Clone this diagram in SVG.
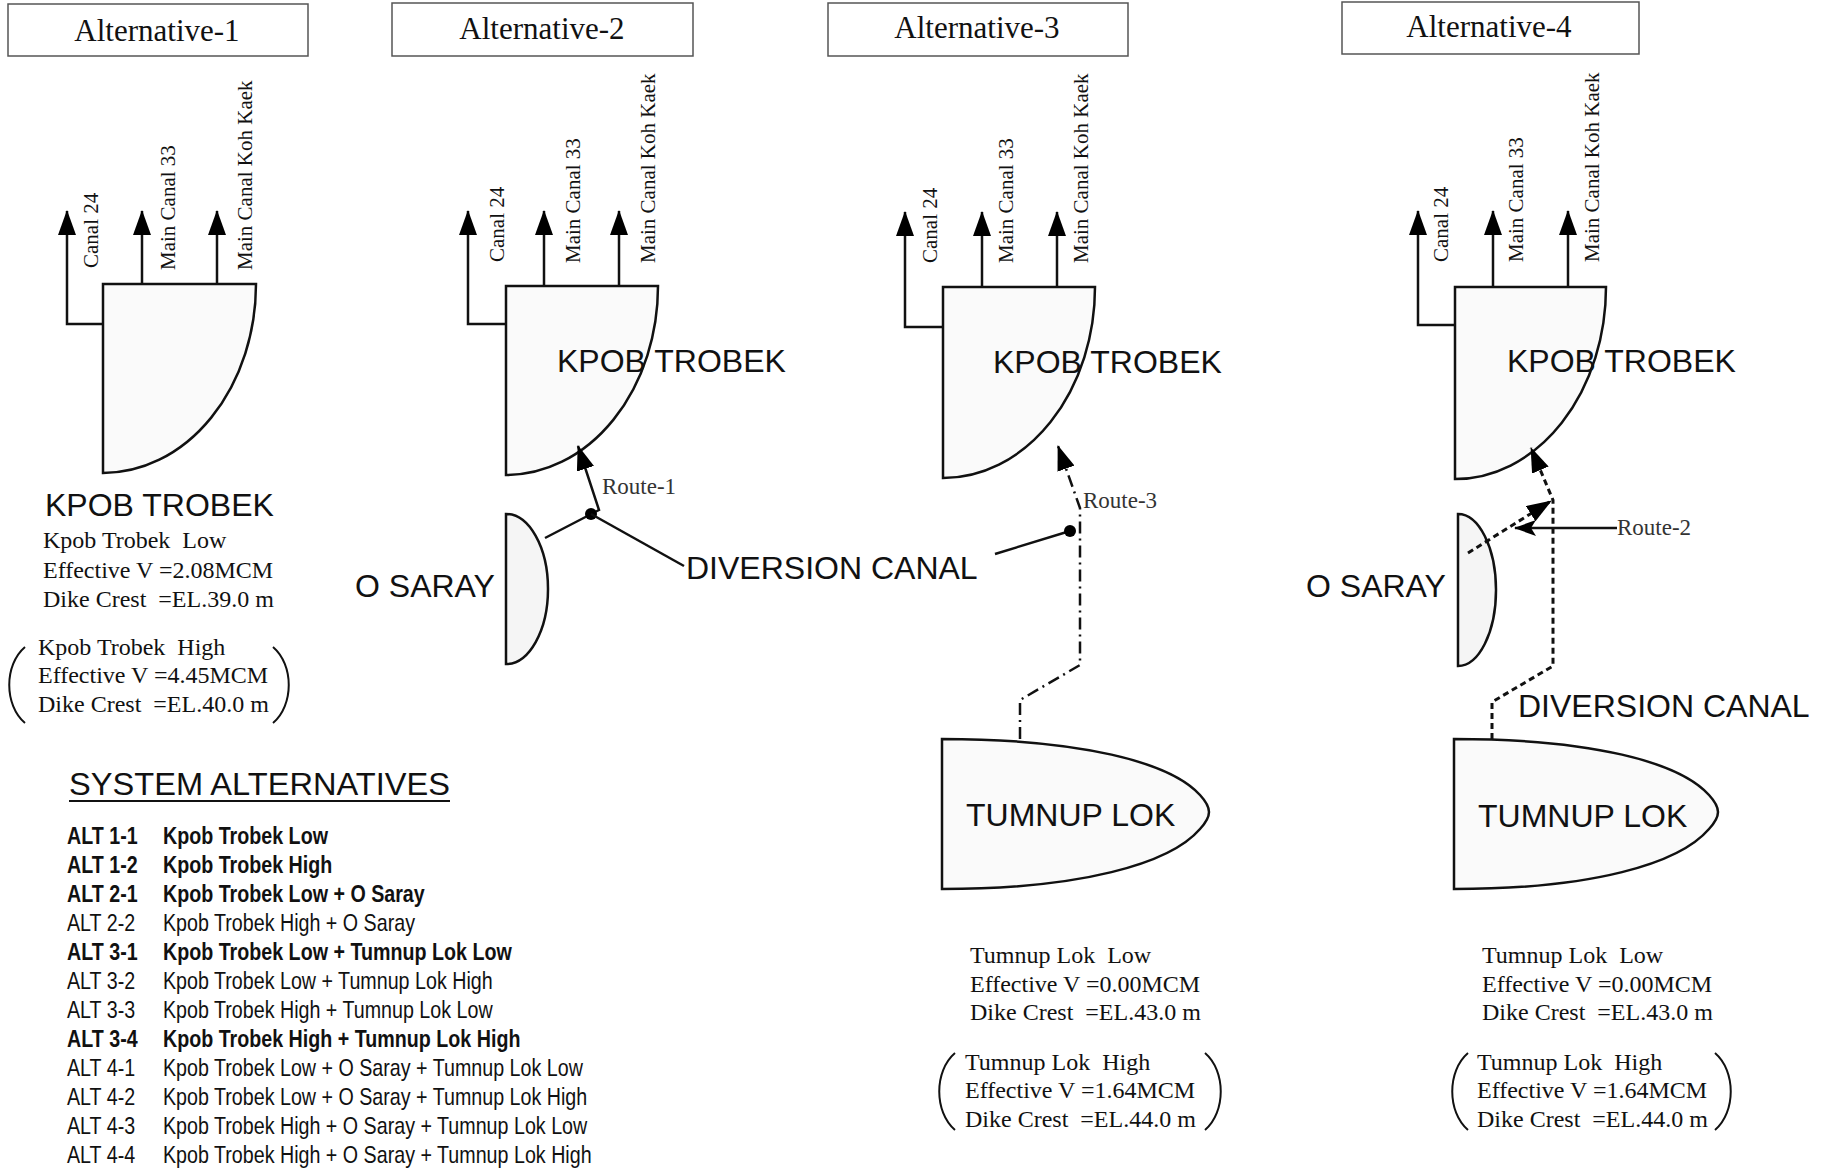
<svg xmlns="http://www.w3.org/2000/svg" width="1823" height="1169" viewBox="0 0 1823 1169">
<defs>
<style>
.bg{fill:#fff}
.title{fill:#fff;stroke:#555;stroke-width:1.5}
.tt{font-family:"Liberation Serif","Times New Roman",serif;font-size:31px;fill:#111;text-anchor:middle}
.res{fill:#fafafa;stroke:#111;stroke-width:2.5}
.res2{fill:#f5f5f5;stroke:#111;stroke-width:2.5}
.ln{fill:none;stroke:#111;stroke-width:2.5}
.dd{fill:none;stroke:#111;stroke-width:2.5;stroke-dasharray:12 5 2 5}
.dt{fill:none;stroke:#111;stroke-width:3;stroke-dasharray:6 4}
.big{font-family:"Liberation Sans",Arial,sans-serif;font-size:32px;fill:#111}
.cn{font-family:"Liberation Serif","Times New Roman",serif;font-size:21px;fill:#111}
.info{font-family:"Liberation Serif","Times New Roman",serif;font-size:24px;fill:#111;white-space:pre}
.rt{font-family:"Liberation Serif","Times New Roman",serif;font-size:23px;fill:#333}
.par{fill:none;stroke:#111;stroke-width:2}
.lst{font-family:"Liberation Sans",Arial,sans-serif;font-size:24px;fill:#111}
.b{font-weight:bold}
</style>
<marker id="ah" viewBox="0 0 25 18" refX="24" refY="9" markerWidth="25" markerHeight="18" markerUnits="userSpaceOnUse" orient="auto"><path d="M0,0 L25,9 L0,18 Z" fill="#000" stroke="none"/></marker>
<marker id="ah2" viewBox="0 0 22 16" refX="21" refY="8" markerWidth="22" markerHeight="16" markerUnits="userSpaceOnUse" orient="auto"><path d="M0,0 L22,8 L0,16 L5,8 Z" fill="#000" stroke="none"/></marker>
</defs>
<rect class="bg" x="0" y="0" width="1823" height="1169"/>

<!-- titles -->
<g id="title-alt1"><rect class="title" x="8" y="4" width="300" height="52"/><text class="tt" x="157" y="41">Alternative-1</text></g>
<g id="title-alt2"><rect class="title" x="392" y="3" width="301" height="53"/><text class="tt" x="542" y="39">Alternative-2</text></g>
<g id="title-alt3"><rect class="title" x="828" y="3" width="300" height="53"/><text class="tt" x="977" y="38">Alternative-3</text></g>
<g id="title-alt4"><rect class="title" x="1342" y="2" width="297" height="52"/><text class="tt" x="1489" y="37">Alternative-4</text></g>

<!-- Kpob Trobek reservoirs -->
<g id="kpob-alt1">
<path class="res" d="M103,284 H256 A153,189 0 0 1 103,473 Z"/>
<text class="big" x="45" y="516">KPOB TROBEK</text>
</g>
<g id="kpob-alt2">
<path class="res" d="M506,286 H658 A152,189 0 0 1 506,475 Z"/>
<text class="big" x="557" y="372">KPOB TROBEK</text>
</g>
<g id="kpob-alt3">
<path class="res" d="M943,287 H1095 A152,191 0 0 1 943,478 Z"/>
<text class="big" x="993" y="373">KPOB TROBEK</text>
</g>
<g id="kpob-alt4">
<path class="res" d="M1455,287 H1606 A151,192 0 0 1 1455,479 Z"/>
<text class="big" x="1507" y="372">KPOB TROBEK</text>
</g>

<!-- O Saray -->
<g id="osaray-alt2">
<path class="res2" d="M506,514 A42,75 0 0 1 506,664 Z"/>
<text class="big" x="355" y="597">O SARAY</text>
</g>
<g id="osaray-alt4">
<path class="res2" d="M1458,514 A38,76 0 0 1 1458,666 Z"/>
<text class="big" x="1306" y="597">O SARAY</text>
</g>

<!-- Tumnup Lok -->
<g id="tumnup-alt3">
<path class="res" d="M942,739 C1080,739 1170,762 1200,795 C1212,808 1212,816 1200,829 C1170,864 1080,889 942,889 Z"/>
<text class="big" x="966" y="826">TUMNUP LOK</text>
</g>
<g id="tumnup-alt4">
<path class="res" d="M1454,739 C1592,739 1679,762 1709,795 C1721,808 1721,816 1709,829 C1679,864 1592,889 1454,889 Z"/>
<text class="big" x="1478" y="827">TUMNUP LOK</text>
</g>

<!-- connectors -->
<g id="connectors">
<path class="ln" d="M103,324 H67 V211" marker-end="url(#ah)"/>
<path class="ln" d="M142,284 V211" marker-end="url(#ah)"/>
<path class="ln" d="M217,284 V211" marker-end="url(#ah)"/>
<path class="ln" d="M506,324 H468 V211" marker-end="url(#ah)"/>
<path class="ln" d="M544,286 V211" marker-end="url(#ah)"/>
<path class="ln" d="M619,286 V211" marker-end="url(#ah)"/>
<path class="ln" d="M943,327 H905 V212" marker-end="url(#ah)"/>
<path class="ln" d="M982,287 V212" marker-end="url(#ah)"/>
<path class="ln" d="M1057,287 V212" marker-end="url(#ah)"/>
<path class="ln" d="M1455,325 H1418 V211" marker-end="url(#ah)"/>
<path class="ln" d="M1493,287 V211" marker-end="url(#ah)"/>
<path class="ln" d="M1568,287 V211" marker-end="url(#ah)"/>

<path class="ln" d="M545,538 L599,510 L578,446" marker-end="url(#ah)"/>
<circle cx="591" cy="514" r="6" fill="#000"/>
<path class="ln" d="M591,514 L684,566"/>
<path class="ln" d="M995,554 L1070,531"/>
<circle cx="1070" cy="531" r="6" fill="#000"/>
<path class="dd" d="M1020,739 V700 L1080,665 V508 L1058,446" marker-end="url(#ah)"/>
<path class="dt" d="M1492,739 V702 L1553,666 V500 L1531,448" marker-end="url(#ah)"/>
<path class="dt" d="M1468,553 L1551,501" marker-end="url(#ah)"/>
<path class="ln" d="M1617,528 H1515" marker-end="url(#ah2)"/>
</g>

<!-- outlet labels -->
<g id="labels-alt1">
<text class="cn" x="98" y="268" transform="rotate(-90 98 268)">Canal 24</text>
<text class="cn" x="175" y="270" transform="rotate(-90 175 270)">Main Canal 33</text>
<text class="cn" x="252" y="270" transform="rotate(-90 252 270)">Main Canal Koh Kaek</text>
</g>
<g id="labels-alt2">
<text class="cn" x="504" y="262" transform="rotate(-90 504 262)">Canal 24</text>
<text class="cn" x="580" y="263" transform="rotate(-90 580 263)">Main Canal 33</text>
<text class="cn" x="655" y="263" transform="rotate(-90 655 263)">Main Canal Koh Kaek</text>
</g>
<g id="labels-alt3">
<text class="cn" x="937" y="263" transform="rotate(-90 937 263)">Canal 24</text>
<text class="cn" x="1013" y="263" transform="rotate(-90 1013 263)">Main Canal 33</text>
<text class="cn" x="1088" y="263" transform="rotate(-90 1088 263)">Main Canal Koh Kaek</text>
</g>
<g id="labels-alt4">
<text class="cn" x="1448" y="262" transform="rotate(-90 1448 262)">Canal 24</text>
<text class="cn" x="1523" y="262" transform="rotate(-90 1523 262)">Main Canal 33</text>
<text class="cn" x="1599" y="262" transform="rotate(-90 1599 262)">Main Canal Koh Kaek</text>
</g>

<!-- route and canal labels -->
<g id="route-labels">
<text class="rt" x="602" y="494">Route-1</text>
<text class="rt" x="1083" y="508">Route-3</text>
<text class="rt" x="1617" y="535">Route-2</text>
<text class="big" x="686" y="579">DIVERSION CANAL</text>
<text class="big" x="1518" y="717">DIVERSION CANAL</text>
</g>

<!-- info blocks -->
<g id="info-kpob">
<text class="info" x="43" y="548">Kpob Trobek  Low</text>
<text class="info" x="43" y="578">Effective V =2.08MCM</text>
<text class="info" x="43" y="607">Dike Crest  =EL.39.0 m</text>
<text class="info" x="38" y="655">Kpob Trobek  High</text>
<text class="info" x="38" y="683">Effective V =4.45MCM</text>
<text class="info" x="38" y="712">Dike Crest  =EL.40.0 m</text>
<path class="par" d="M25,647 C4,665 4,705 25,723"/>
<path class="par" d="M273,647 C294,665 294,705 273,723"/>
</g>
<g id="info-tumnup-alt3">
<text class="info" x="970" y="963">Tumnup Lok  Low</text>
<text class="info" x="970" y="992">Effective V =0.00MCM</text>
<text class="info" x="970" y="1020">Dike Crest  =EL.43.0 m</text>
<text class="info" x="965" y="1070">Tumnup Lok  High</text>
<text class="info" x="965" y="1098">Effective V =1.64MCM</text>
<text class="info" x="965" y="1127">Dike Crest  =EL.44.0 m</text>
<path class="par" d="M955,1053 C934,1071 934,1112 955,1130"/>
<path class="par" d="M1205,1053 C1226,1071 1226,1112 1205,1130"/>
</g>
<g id="info-tumnup-alt4">
<text class="info" x="1482" y="963">Tumnup Lok  Low</text>
<text class="info" x="1482" y="992">Effective V =0.00MCM</text>
<text class="info" x="1482" y="1020">Dike Crest  =EL.43.0 m</text>
<text class="info" x="1477" y="1070">Tumnup Lok  High</text>
<text class="info" x="1477" y="1098">Effective V =1.64MCM</text>
<text class="info" x="1477" y="1127">Dike Crest  =EL.44.0 m</text>
<path class="par" d="M1468,1053 C1447,1071 1447,1112 1468,1130"/>
<path class="par" d="M1715,1053 C1736,1071 1736,1112 1715,1130"/>
</g>

<!-- system alternatives list -->
<g id="system-alternatives">
<text class="big" x="69" y="795" textLength="381" lengthAdjust="spacingAndGlyphs">SYSTEM ALTERNATIVES</text>
<line x1="69" y1="801" x2="450" y2="801" stroke="#111" stroke-width="2"/>
<g transform="translate(67,0) scale(0.82,1)">
<text class="lst b" x="0" y="844">ALT 1-1</text><text class="lst b" x="117" y="844">Kpob Trobek Low</text>
<text class="lst b" x="0" y="873">ALT 1-2</text><text class="lst b" x="117" y="873">Kpob Trobek High</text>
<text class="lst b" x="0" y="902">ALT 2-1</text><text class="lst b" x="117" y="902">Kpob Trobek Low + O Saray</text>
<text class="lst" x="0" y="931">ALT 2-2</text><text class="lst" x="117" y="931">Kpob Trobek High + O Saray</text>
<text class="lst b" x="0" y="960">ALT 3-1</text><text class="lst b" x="117" y="960">Kpob Trobek Low + Tumnup Lok Low</text>
<text class="lst" x="0" y="989">ALT 3-2</text><text class="lst" x="117" y="989">Kpob Trobek Low + Tumnup Lok High</text>
<text class="lst" x="0" y="1018">ALT 3-3</text><text class="lst" x="117" y="1018">Kpob Trobek High + Tumnup Lok Low</text>
<text class="lst b" x="0" y="1047">ALT 3-4</text><text class="lst b" x="117" y="1047">Kpob Trobek High + Tumnup Lok High</text>
<text class="lst" x="0" y="1076">ALT 4-1</text><text class="lst" x="117" y="1076">Kpob Trobek Low + O Saray + Tumnup Lok Low</text>
<text class="lst" x="0" y="1105">ALT 4-2</text><text class="lst" x="117" y="1105">Kpob Trobek Low + O Saray + Tumnup Lok High</text>
<text class="lst" x="0" y="1134">ALT 4-3</text><text class="lst" x="117" y="1134">Kpob Trobek High + O Saray + Tumnup Lok Low</text>
<text class="lst" x="0" y="1163">ALT 4-4</text><text class="lst" x="117" y="1163">Kpob Trobek High + O Saray + Tumnup Lok High</text>
</g>
</g>
</svg>
